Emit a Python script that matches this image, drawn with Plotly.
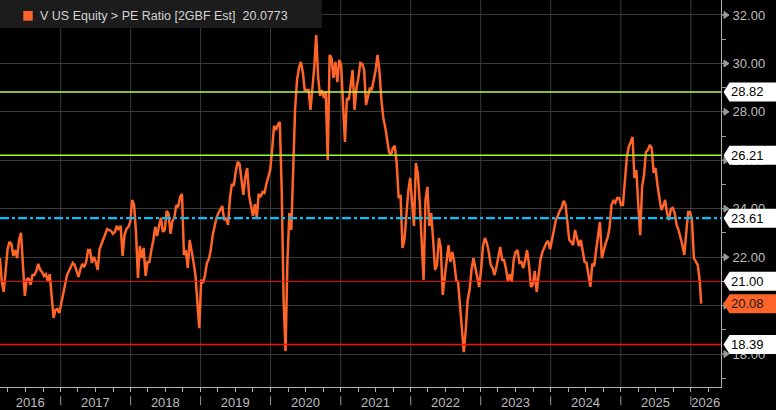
import pandas as pd
import plotly.graph_objects as go

# ---- data: V US Equity PE Ratio [2GBF Est], one reading every 10 days from 2016-02-19 ----
pe_block1 = [21.96, 20.98, 20.56, 21.47, 22.33, 22.63, 22.54, 22.05, 22.29, 21.96,
             22.71, 23.00, 21.55, 20.40, 21.06, 21.14, 20.85, 21.26, 21.26, 21.43,
             21.72, 21.47, 21.39, 21.22, 21.30, 21.01, 21.30, 20.40, 19.49, 19.82,
             19.86, 19.69, 20.06, 20.48, 20.89, 21.26, 21.43, 21.63, 21.76, 21.68,
             21.39, 21.18, 21.51, 21.72, 21.59, 21.80, 22.29, 22.29, 21.76, 22.01,
             21.80, 21.47, 22.33, 22.54, 22.79, 23.00, 23.16, 23.12, 23.08, 22.96,
             23.04, 23.29, 23.12, 23.29, 22.05, 22.91, 23.16, 23.25, 23.45, 24.36,
             24.15, 23.04, 21.14, 22.46, 21.96, 22.38, 21.22, 21.80, 21.80, 22.29,
             22.67, 23.25, 22.87, 23.29, 23.62, 23.04, 23.12, 23.91, 23.78, 22.96,
             23.49, 23.62, 24.15, 24.07, 24.48, 24.61, 22.09, 22.29, 21.55, 22.71]
pe_block2 = [22.29, 21.80, 21.26, 20.23, 19.07, 21.06, 20.93, 21.26, 21.76, 21.92,
             22.29, 22.91, 23.33, 23.62, 23.82, 23.95, 24.11, 23.53, 23.62, 23.33,
             24.44, 25.02, 24.94, 25.52, 25.93, 25.85, 25.10, 24.57, 25.31, 25.68,
             24.53, 24.15, 23.70, 24.19, 23.62, 24.61, 24.48, 24.69, 24.65, 25.02,
             25.27, 25.60, 26.42, 27.42, 27.25, 27.46, 27.58, 24.77, 20.23, 18.12,
             21.88, 23.82, 23.12, 26.22, 28.16, 29.32, 29.81, 30.06, 29.65, 28.90,
             28.90, 28.90, 28.08, 28.99, 29.85, 31.17, 29.44, 28.66, 28.90, 28.57,
             28.86, 26.01, 30.35, 30.22, 29.40, 30.06, 29.23, 30.14, 29.94, 28.28,
             26.76, 28.57, 28.49, 29.11, 29.73, 28.08, 28.99, 29.40, 30.02, 29.98,
             29.73, 28.28, 28.61, 28.99, 28.90, 29.32, 29.73, 30.35, 29.65, 28.49]
pe_block3 = [27.75, 27.37, 26.92, 26.34, 26.22, 26.51, 26.59, 25.85, 24.44, 24.57,
             22.38, 22.71, 23.70, 24.69, 25.27, 24.44, 23.29, 25.89, 25.47, 24.28,
             22.91, 21.06, 24.36, 24.90, 23.29, 23.82, 22.71, 21.47, 21.68, 22.79,
             22.38, 20.44, 21.14, 21.76, 22.50, 21.80, 22.21, 21.80, 21.06, 20.97,
             19.90, 18.91, 18.08, 18.99, 20.23, 20.64, 21.47, 21.96, 21.59, 21.14,
             20.77, 21.47, 22.46, 22.79, 22.58, 22.21, 21.68, 21.55, 21.26, 21.59,
             21.96, 22.42, 21.88, 21.88, 21.51, 21.01, 21.30, 20.97, 21.88, 22.21,
             22.29, 21.76, 21.80, 21.55, 21.88, 22.29, 21.68, 20.77, 20.85, 21.43,
             20.56, 21.18, 21.92, 22.21, 22.38, 22.58, 22.67, 22.33, 22.71, 23.16,
             23.53, 23.70, 23.91, 24.03, 24.32, 24.19, 23.33, 22.71, 22.63, 22.50]
pe_block4 = [23.12, 22.71, 22.46, 22.71, 22.21, 21.80, 21.76, 21.18, 20.77, 21.72,
             21.63, 22.29, 22.96, 23.45, 21.96, 22.29, 22.58, 22.79, 23.20, 24.15,
             24.32, 24.24, 24.44, 24.44, 24.15, 24.15, 25.27, 26.09, 26.55, 26.75,
             26.96, 25.27, 25.60, 24.15, 22.91, 24.90, 25.39, 26.34, 26.42, 26.63,
             26.51, 25.48, 25.68, 24.98, 24.48, 23.95, 24.11, 24.36, 23.82, 23.53,
             23.99, 24.03, 23.82, 23.33, 23.12, 22.83, 22.50, 22.09, 22.99, 23.86,
             23.86, 23.53, 21.96, 21.80, 21.68, 21.06]
first_date = "2016-02-19"
last_date = "2026-02-24"
last_value = 20.0773

ref_levels = [28.82, 26.21, 23.61, 21.00, 18.39]
ref_colors = ["#b4ff50", "#96ff28", "#00c0ff", "#e81414", "#ff0a0a"]
ref_dashes = ["solid", "solid", "dashdot", "solid", "solid"]
ref_widths = [1.3, 1.4, 2.2, 1, 1.4]

year_labels = [str(y) for y in range(2016, 2027)]
label_dates = ["2016-07-26"] + [f"{y}-07-01" for y in range(2017, 2026)] + ["2026-03-20"]
year_starts = [f"{y}-01-01" for y in range(2017, 2027)]
major_ticks = [18, 20, 22, 24, 26, 28, 30, 32]

series_name = "V US Equity &gt; PE Ratio [2GBF Est]"

# ---- build ----
values = pe_block1 + pe_block2 + pe_block3 + pe_block4
dates = list(pd.date_range(first_date, periods=len(values), freq="10D"))
assert len(values) == 366
dates = dates + [pd.Timestamp(last_date)]
values = values + [last_value]

ORANGE = "#ff6428"
FONT = "Arial, Liberation Sans, sans-serif"
GRID = "#3a3a3a"
TXT = "#bcbcbc"

fig = go.Figure()
fig.add_trace(go.Scatter(x=dates, y=values, mode="lines",
                         line=dict(color=ORANGE, width=2.5), showlegend=False,
                         hoverinfo="x+y"))

shapes = []
for d in year_starts:
    shapes.append(dict(type="line", xref="x", yref="paper", x0=d, x1=d, y0=0, y1=1,
                       line=dict(color=GRID, width=1), layer="below"))
    shapes.append(dict(type="line", xref="x", yref="paper", x0=d, x1=d, y0=-0.024, y1=-0.047,
                       line=dict(color="#9a9a9a", width=1)))
for lv, c, ds, w in zip(ref_levels, ref_colors, ref_dashes, ref_widths):
    shapes.append(dict(type="line", xref="paper", yref="y", x0=0, x1=1, y0=lv, y1=lv,
                       line=dict(color=c, width=w, dash=ds), layer="above"))

for t in major_ticks:
    shapes.append(dict(type="path", xref="paper", yref="y", xsizemode="pixel", ysizemode="pixel",
                       xanchor=1, yanchor=t, path="M0,0 L3,0 L3,3.5 L8,0 L3,-3.5 L3,0 Z",
                       fillcolor="#9a9a9a", line=dict(color="#9a9a9a", width=1), layer="above"))

box_path = "M2.5,0 L8.5,9.5 L60,9.5 L60,-9.5 L8.5,-9.5 Z"
annotations = []
for lv, fill, tc in [(l, "#ffffff", "#000000") for l in ref_levels] + [(round(last_value, 2), ORANGE, "#1a1a1a")]:
    shapes.append(dict(type="path", xref="paper", yref="y", xsizemode="pixel", ysizemode="pixel",
                       xanchor=1, yanchor=lv, path=box_path, fillcolor=fill,
                       line=dict(width=0), layer="above"))
    annotations.append(dict(xref="paper", yref="y", x=1, y=lv, xanchor="left", yanchor="middle",
                            xshift=8, text=f"{lv:.2f}", showarrow=False,
                            font=dict(family=FONT, size=13, color=tc)))

shapes.append(dict(type="rect", xref="paper", yref="paper", x0=0, x1=0.4464, y0=0.9276, y1=1.0,
                   fillcolor="#1c1c1c", line=dict(width=0), layer="above"))
shapes.append(dict(type="rect", xref="paper", yref="paper", x0=0.0323, x1=0.0454, y0=0.9465, y1=0.9716,
                   fillcolor=ORANGE, line=dict(width=0), layer="above"))
annotations.append(dict(xref="paper", yref="paper", x=0.0531, y=0.9594, xanchor="left", yanchor="middle",
                        text=f"{series_name}\u00a0\u00a0{last_value}", showarrow=False,
                        font=dict(family=FONT, size=12.5, color="#d4d4d4")))

fig.update_layout(
    width=776, height=410,
    margin=dict(l=0, r=55, t=0, b=23),
    paper_bgcolor="#000000", plot_bgcolor="#000000",
    shapes=shapes, annotations=annotations,
    xaxis=dict(type="date", range=["2016-02-19 14:00", "2026-06-07 12:00"],
               tickvals=label_dates, ticktext=year_labels, ticks="",
               showgrid=False, zeroline=False, ticklabelstandoff=3,
               showline=True, linecolor="#b0b0b0", linewidth=1,
               tickfont=dict(family=FONT, size=13, color=TXT),
               minor=dict(dtick="M3", tick0="2016-01-01", ticks="outside", ticklen=4,
                          tickcolor="#b0b0b0", showgrid=False)),
    yaxis=dict(side="right", range=[16.637, 32.619], dtick=2, tick0=0, tickformat=".2f",
               showgrid=True, gridcolor=GRID, gridwidth=1, zeroline=False,
               showline=True, linecolor="#b0b0b0", linewidth=1,
               ticks="", ticklabelstandoff=8,
               tickfont=dict(family=FONT, size=13, color=TXT),
               minor=dict(dtick=1, ticks="outside", ticklen=4, tickcolor="#9a9a9a", showgrid=False)),
)

fig.write_html("out.html", config={"displayModeBar": False},
               post_script="document.body.style.margin='0';document.body.style.overflow='hidden';")
